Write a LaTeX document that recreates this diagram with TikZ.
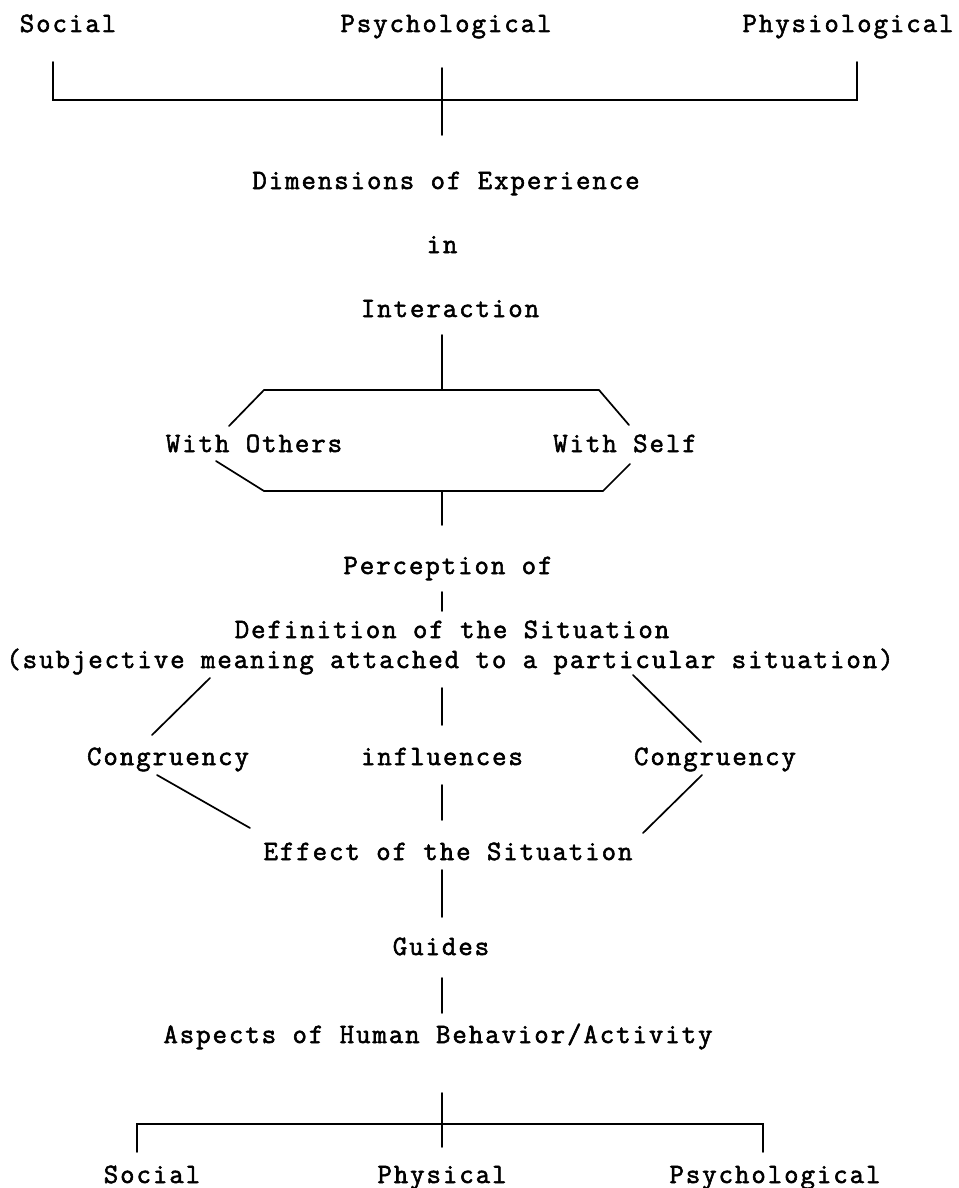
\documentclass[tikz,border=0pt]{standalone}
\usepackage{fontspec}
\newfontfamily\tw{Latin Modern Mono}[FakeBold=2,LetterSpace=7]
\begin{document}
\begin{tikzpicture}[x=1pt,y=-1pt,
  lbl/.style={anchor=base,inner sep=0pt,outer sep=0pt,font=\tw\fontsize{28}{30}\selectfont},
  ln/.style={line width=1.7pt,line cap=round,line join=miter}]
\useasboundingbox[fill=white] (0,0) rectangle (958,1188);
% texts
\node[lbl] (tSocial) at (68,32) {Social};
\node[lbl] (tPsych) at (446,32) {Psychological};
\node[lbl] (tPhysio) at (848,32) {Physiological};
\node[lbl] (dim) at (446,189) {Dimensions of Experience};
\node[lbl] (in) at (442,253) {in};
\node[lbl] (inter) at (450,317) {Interaction};
\node[lbl] (wOthers) at (254,452) {With Others};
\node[lbl] (wSelf) at (625,452) {With Self};
\node[lbl] (percep) at (448,574) {Perception of};
\node[lbl] (defin) at (452,638) {Definition of the Situation};
\node[lbl] (subj) at (450,668) {(subjective meaning attached to a particular situation)};
\node[lbl] (congL) at (168,765) {Congruency};
\node[lbl] (infl) at (442,765) {influences};
\node[lbl] (congR) at (715,765) {Congruency};
\node[lbl] (effect) at (448,860) {Effect of the Situation};
\node[lbl] (guides) at (441,955) {Guides};
\node[lbl] (aspects) at (438,1043) {Aspects of Human Behavior/Activity};
\node[lbl] (bSocial) at (152,1183) {Social};
\node[lbl] (bPhys) at (442,1183) {Physical};
\node[lbl] (bPsych) at (775,1183) {Psychological};
% top bracket
\coordinate (tbL) at (53,62); \coordinate (tbLc) at (53,100);
\coordinate (tbR) at (857,62); \coordinate (tbRc) at (857,100);
\coordinate (tbC) at (442,68); \coordinate (tbCb) at (442,135);
\draw[ln] (tbL) -- (tbLc) -- (tbRc) -- (tbR);
\draw[ln] (tbC) -- (tbCb);
% interaction to hexagon
\coordinate (i1) at (442,335); \coordinate (i2) at (442,390);
\draw[ln] (i1) -- (i2);
\coordinate (h1) at (229,426); \coordinate (h2) at (264,390);
\coordinate (h3) at (599,390); \coordinate (h4) at (629,425);
\coordinate (h5) at (216,461); \coordinate (h6) at (264,491);
\coordinate (h7) at (603,491); \coordinate (h8) at (630,464);
\draw[ln] (h1) -- (h2) -- (h3) -- (h4);
\draw[ln] (h5) -- (h6) -- (h7) -- (h8);
\coordinate (p1) at (442,491); \coordinate (p2) at (442,525);
\draw[ln] (p1) -- (p2);
\coordinate (d1) at (442,592); \coordinate (d2) at (442,611);
\draw[ln] (d1) -- (d2);
% congruency diamond
\coordinate (ul1) at (210,678); \coordinate (ul2) at (152,735);
\coordinate (ur1) at (633,675); \coordinate (ur2) at (701,742);
\coordinate (ll1) at (157,775); \coordinate (ll2) at (250,828);
\coordinate (lr1) at (702,775); \coordinate (lr2) at (643,833);
\draw[ln] (ul1) -- (ul2);
\draw[ln] (ur1) -- (ur2);
\draw[ln] (ll1) -- (ll2);
\draw[ln] (lr1) -- (lr2);
\coordinate (c1) at (442,688); \coordinate (c2) at (442,725);
\coordinate (c3) at (442,785); \coordinate (c4) at (442,820);
\draw[ln] (c1) -- (c2);
\draw[ln] (c3) -- (c4);
\coordinate (g1) at (442,870); \coordinate (g2) at (442,917);
\coordinate (g3) at (442,978); \coordinate (g4) at (442,1013);
\draw[ln] (g1) -- (g2);
\draw[ln] (g3) -- (g4);
% bottom bracket
\coordinate (bC) at (442,1093); \coordinate (bCb) at (442,1147);
\coordinate (bL) at (137,1152); \coordinate (bLc) at (137,1124);
\coordinate (bR) at (763,1152); \coordinate (bRc) at (763,1124);
\draw[ln] (bC) -- (bCb);
\draw[ln] (bL) -- (bLc) -- (bRc) -- (bR);
\end{tikzpicture}
\end{document}
